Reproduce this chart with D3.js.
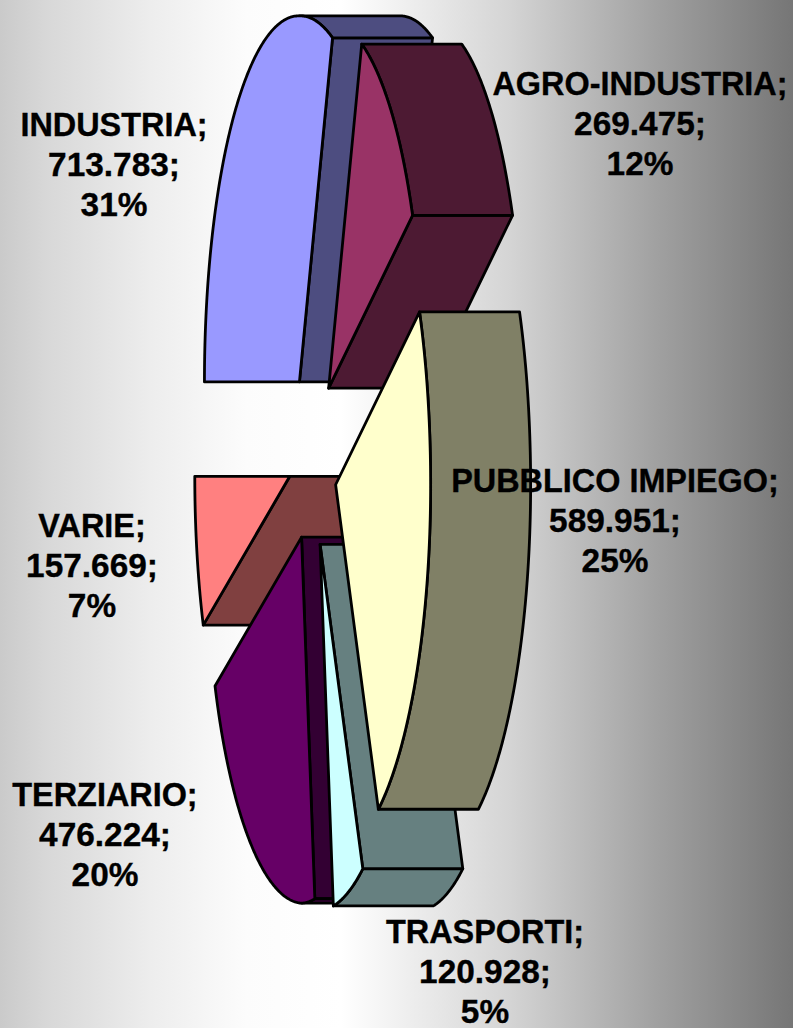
<!DOCTYPE html>
<html><head><meta charset="utf-8">
<style>html,body{margin:0;padding:0;background:#fff}svg{display:block}</style>
<script src="https://cdn.jsdelivr.net/npm/d3@7"></script>
</head><body><div id="chart"></div>
<script>
const categories = ["INDUSTRIA","AGRO-INDUSTRIA","PUBBLICO IMPIEGO","TRASPORTI","TERZIARIO","VARIE"];
const values = [713783,269475,589951,120928,476224,157669];
const faceColors = ["#9999FF","#993366","#FFFFCC","#CCFFFF","#660066","#FF8080"];
const wallColors = ["#4D4D80","#4D1A33","#808066","#668080","#330033","#804040"];
const paintOrder = [0,1,5,4,3,2];
const labelCentres = [[114,124],[640,83.5],[615,480],[485,931.5],[105,794.5],[92,525]];

const W=793,H=1028, cx=313, cy=457, rx=95, ry=366, explode=0.25, depth=100, lineH=40, warpUpper=1.5, warpLower=3;
const svg=d3.select("#chart").append("svg").attr("width",W).attr("height",H);
const g=svg.append("defs").append("linearGradient").attr("id","bg");
[[0,"#cacaca"],[0.06,"#d8d8d8"],[0.19,"#ededed"],[0.31,"#fcfcfc"],[0.43,"#ffffff"],[0.64,"#d5d5d5"],[0.83,"#a0a0a0"],[1,"#767676"]]
  .forEach(s=>g.append("stop").attr("offset",s[0]).attr("stop-color",s[1]));
svg.append("rect").attr("width",W).attr("height",H).attr("fill","url(#bg)");

const total=d3.sum(values);
const arcs=d3.pie().sort(null).startAngle(-Math.PI/2).endAngle(1.5*Math.PI)(values);
const X=d3.scaleLinear().domain([-1,1]).range([cx-rx,cx+rx]);
const Y=d3.scaleLinear().domain([-1,1]).range([cy-ry,cy+ry]);
const pt=(a,r,m)=>[X(r*Math.sin(a)+explode*Math.sin(m)),
                   Y(-r*Math.cos(a)-explode*Math.cos(m))-r*(Math.cos(a)<0?warpLower:warpUpper)*Math.abs(Math.sin(2*a))];
const line=d3.line();
const angles=(a,b)=>{const n=Math.max(2,Math.ceil((b-a)/0.01));return d3.range(n+1).map(i=>a+(b-a)*i/n);};
const shift=p=>[p[0]+depth,p[1]];
const style=(s,f)=>s.attr("fill",f).attr("stroke","#000").attr("stroke-width",2.8).attr("stroke-linejoin","round");

paintOrder.forEach(i=>{
  const d=arcs[i], a=d.startAngle, b=d.endAngle, m=(a+b)/2;
  const layer=svg.append("g");
  const c=pt(0,0,m);
  const wall=poly=>style(layer.append("path").attr("d",line(poly)+"Z"),wallColors[i]);
  if(Math.cos(a)<-1e-6){const p=pt(a,1,m);wall([c,p,shift(p),shift(c)]);}
  if(Math.cos(b)>1e-6){const p=pt(b,1,m);wall([c,p,shift(p),shift(c)]);}
  const lo=Math.max(a,0), hi=Math.min(b,Math.PI);
  if(hi>lo){const p=angles(lo,hi).map(t=>pt(t,1,m));wall(p.concat(p.map(shift).reverse()));}
  const rim=angles(a,b).map(t=>pt(t,1,m));
  style(layer.append("path").attr("d",line([c].concat(rim))+"Z"),faceColors[i]);
});

const fmt=v=>d3.format(",")(v).replace(/,/g,".");
const labels=svg.append("g").attr("font-family","'Liberation Sans',Arial,sans-serif").attr("font-weight","bold").attr("fill","#000").attr("stroke","#000").attr("stroke-width",0.35).attr("text-anchor","middle");
categories.forEach((n,i)=>{
  const [x,y]=labelCentres[i];
  const rows=[n+";",fmt(values[i])+";",Math.round(values[i]/total*100)+"%"];
  rows.forEach((t,k)=>labels.append("text").attr("x",x).attr("y",y+k*lineH).attr("dy","11.6").attr("font-size",k?33.4:32.4).text(t));
});
</script></body></html>
